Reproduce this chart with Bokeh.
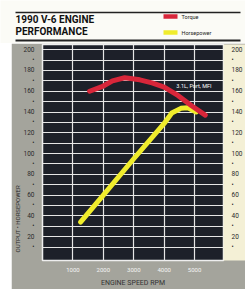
from bokeh.plotting import figure
from bokeh.models import FixedTicker, LinearAxis, Range1d, Label, Spacer, Title
from bokeh.layouts import column, row
from bokeh.embed import file_html
from bokeh.resources import INLINE
from bokeh.core.properties import value

# ---------------- data ----------------
title_lines = ["1990 V-6 ENGINE", "PERFORMANCE"]
series_names = ["Torque", "Horsepower"]
series_colors = ["#d8263a", "#f0ec2c"]

torque_rpm = [1550, 2000, 2300, 2700, 3200, 3600, 4000, 4450, 4900, 5350]
torque_vals = [160, 165, 170, 173, 171, 168, 164, 156, 146, 137]

hp_rpm = [1250, 2000, 3000, 4000, 4250, 4550, 4780, 5050]
hp_vals = [34, 60, 95, 129, 139, 143.5, 144, 140]

x_ticks = [1000, 2000, 3000, 4000, 5000]
y_ticks = [10, 20, 30, 40, 50, 60, 70, 80, 90, 100,
           110, 120, 130, 140, 150, 160, 170, 180, 190, 200]
y_labels = {10: "•", 20: "20", 30: "•", 40: "40", 50: "•", 60: "60", 70: "•",
            80: "80", 90: "•", 100: "100", 110: "•", 120: "120", 130: "•",
            140: "140", 150: "•", 160: "160", 170: "•", 180: "180", 190: "•",
            200: "200"}

engine_note = "3.1L, Port, MFI"
y_axis_title = "OUTPUT • HORSEPOWER"
x_axis_title = "ENGINE SPEED RPM"

FONT = "Roboto"
PANEL = "#a4a49c"
PLOT_BG = "#1d2029"
CREAM = "#f4f0d6"
PAGE = "#fbfbf6"

# ---------------- header ----------------
h = figure(width=245, height=43, x_range=Range1d(0, 245), y_range=Range1d(0, 43),
           output_backend="svg", toolbar_location=None, min_border=0,
           background_fill_color=PAGE, border_fill_color=PAGE, outline_line_color=None)
h.axis.visible = False
h.grid.visible = False
h.segment(x0=[15, 15], y0=[31, 3], x1=[240, 240], y1=[31, 3],
          line_width=[1.5, 2.2], line_color="#222222")
h.text(x=[15, 15], y=[24, 12.5], text=title_lines, text_font=value(FONT),
       text_font_style="bold", text_font_size="10px", text_baseline="middle",
       text_color="#111111")
h.rect(x=[170, 170], y=[27, 11], width=14, height=4.5,
       fill_color=series_colors, line_color=None)
h.text(x=[181, 181], y=[27, 11], text=series_names, text_font=value(FONT),
       text_font_size="5.5px", text_baseline="middle", text_color="#222222")

# ---------------- main chart ----------------
p = figure(width=234, height=246, x_range=Range1d(0, 5950), y_range=Range1d(-3, 205),
           output_backend="svg", toolbar_location=None,
           min_border_left=25, min_border_right=19, min_border_top=1, min_border_bottom=21,
           background_fill_color=PLOT_BG, border_fill_color=PANEL,
           outline_line_color="#eeeeee", outline_line_width=1.5)

right = LinearAxis()
p.add_layout(right, "right")

for ax in [p.yaxis[0], right]:
    ax.ticker = FixedTicker(ticks=y_ticks)
    ax.major_label_overrides = y_labels
    ax.major_tick_line_color = None
    ax.minor_tick_line_color = None
    ax.axis_line_color = None
    ax.major_label_text_font = FONT
    ax.major_label_text_font_size = "6.5px"
    ax.major_label_text_color = "#2a2a2a"
    ax.major_label_standoff = 2
right.background_fill_color = CREAM

ytitle = Title(text=y_axis_title, align="left", offset=8, standoff=0,
               text_font=FONT, text_font_size="6px", text_font_style="normal",
               text_color="#2a2a2a")
p.add_layout(ytitle, "left")

xa = p.xaxis[0]
xa.ticker = FixedTicker(ticks=x_ticks)
xa.major_tick_line_color = None
xa.minor_tick_line_color = None
xa.axis_line_color = None
xa.major_label_text_font = FONT
xa.major_label_text_font_size = "6px"
xa.major_label_text_color = "#f4f4f4"
xa.major_label_standoff = 1
xa.axis_label = x_axis_title
xa.axis_label_text_font = FONT
xa.axis_label_text_font_size = "7px"
xa.axis_label_text_font_style = "normal"
xa.axis_label_text_color = "#333333"
xa.axis_label_standoff = 4

p.xgrid.ticker = FixedTicker(ticks=x_ticks)
p.ygrid.ticker = FixedTicker(ticks=y_ticks)
p.grid.grid_line_color = "#e6e6e6"
p.grid.grid_line_width = 1.2

p.line(hp_rpm, hp_vals, line_width=5, line_color=series_colors[1], line_cap="round",
       line_join="round")
p.line(torque_rpm, torque_vals, line_width=5, line_color=series_colors[0],
       line_cap="round", line_join="round")

p.add_layout(Label(x=4400, y=165, text=engine_note, text_font=FONT,
                   text_font_size="5.5px", text_color="#ffffff", text_baseline="middle"))

layout = column(h, row(Spacer(width=11, height=246), p))

open("out.html", "w").write(file_html(layout, INLINE))
